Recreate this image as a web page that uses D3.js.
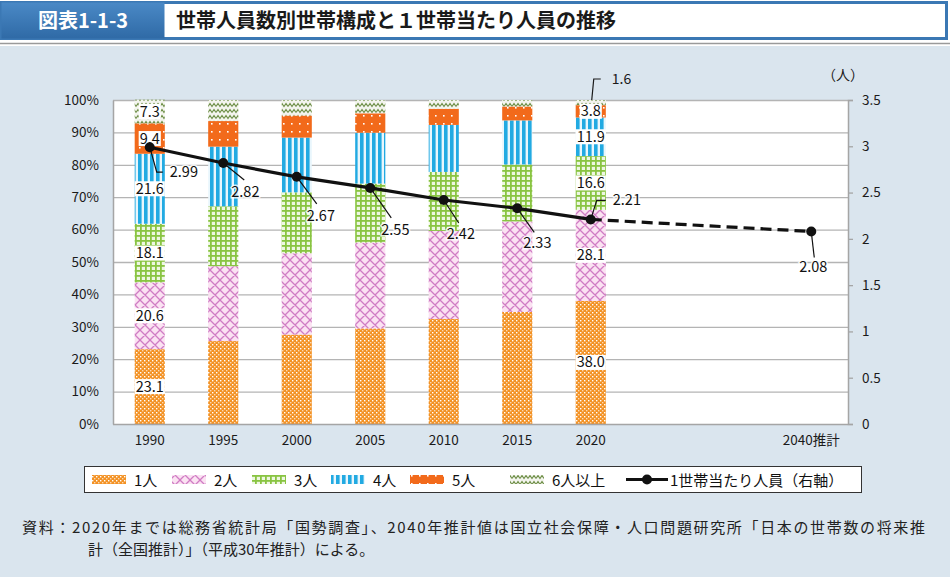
<!DOCTYPE html>
<html><head><meta charset="utf-8">
<script src="https://cdn.jsdelivr.net/npm/d3@7"></script>
<style>
body{margin:0;padding:0;background:#fff;}
svg{display:block;font-family:"Noto Sans CJK JP","Noto Sans",sans-serif;}
</style></head>
<body>
<svg id="c" width="950" height="577"></svg>
<script>
// ---- data ----
const categories = ["1990","1995","2000","2005","2010","2015","2020","gap1","gap2","2040推計"];
const tickLabels = ["1990","1995","2000","2005","2010","2015","2020","","","2040推計"];
const seriesNames = ["1人","2人","3人","4人","5人","6人以上"];
const one   = [23.1, 25.6, 27.6, 29.5, 32.4, 34.6, 38.0];
const two   = [20.6, 23.1, 25.1, 26.5, 27.2, 27.9, 28.1];
const three = [18.1, 18.5, 18.8, 18.2, 18.2, 17.6, 16.6];
const four  = [21.6, 18.4, 16.9, 15.7, 14.5, 13.6, 11.9];
const five  = [9.4, 7.9, 6.8, 6.0, 5.0, 4.3, 3.8];
const six   = [7.3, 6.5, 4.8, 4.1, 2.7, 2.0, 1.6];
const avgPersons = [2.99, 2.82, 2.67, 2.55, 2.42, 2.33, 2.21, null, null, 2.08];
const leftTicks = [0,10,20,30,40,50,60,70,80,90,100];
const rightTicks = [0,0.5,1,1.5,2,2.5,3,3.5];
const labeledBars = ["1990","2020"];
const lineLabel = "1世帯当たり人員（右軸）";
const titleNo = "図表1-1-3";
const titleText = "世帯人員数別世帯構成と１世帯当たり人員の推移";
const noteLines = ["資料：2020年までは総務省統計局「国勢調査」、2040年推計値は国立社会保障・人口問題研究所「日本の世帯数の将来推",
                   "計（全国推計）」（平成30年推計）による。"];

// ---- layout ----
const svg = d3.select("#c");
const L = 113, R = 848, T = 100, B = 424;
const pats = ["p1","p2","p3","p4","p5","p6"];

// background
svg.append("rect").attr("x",0).attr("y",0).attr("width",950).attr("height",577).attr("fill","#fff");
svg.append("rect").attr("x",0).attr("y",46).attr("width",950).attr("height",531).attr("fill","#dae5ee");
// header
svg.append("rect").attr("x",1.5).attr("y",2.5).attr("width",945).attr("height",36).attr("fill","#fff").attr("stroke","#3b78b4").attr("stroke-width",3);
const hg = svg.append("defs").append("linearGradient").attr("id","hg").attr("x1",0).attr("y1",0).attr("x2",0).attr("y2",1);
hg.append("stop").attr("offset","0").attr("stop-color","#4a89c6");
hg.append("stop").attr("offset","1").attr("stop-color","#2f6aa6");
svg.append("rect").attr("x",1.5).attr("y",2.5).attr("width",163).attr("height",36).attr("fill","url(#hg)");
svg.append("text").attr("x",83).attr("y",28).attr("text-anchor","middle").attr("fill","#fff").attr("font-size",20).attr("font-weight","bold").text(titleNo);
svg.append("text").attr("x",176).attr("y",28).attr("fill","#1a1a1a").attr("font-size",20).attr("font-weight","bold").text(titleText);
svg.append("line").attr("x1",0).attr("x2",950).attr("y1",43.5).attr("y2",43.5).attr("stroke","#9a9a9a").attr("stroke-width",1.5);

// patterns
const defs = svg.append("defs");
function pat(id,w,h){return defs.append("pattern").attr("id",id).attr("patternUnits","userSpaceOnUse").attr("width",w).attr("height",h);}
let p;
p = pat("p1",4,4); p.append("rect").attr("width",4).attr("height",4).attr("fill","#f39224");
p.append("rect").attr("x",0).attr("y",0).attr("width",1.4).attr("height",1.4).attr("fill","#fff");
p.append("rect").attr("x",2).attr("y",2).attr("width",1.4).attr("height",1.4).attr("fill","#fbd9b4");
p = pat("p2",10,10); p.append("rect").attr("width",10).attr("height",10).attr("fill","#fbe2f2");
p.append("path").attr("d","M0,0L10,10M10,0L0,10M-1,9L1,11M9,-1L11,1M-1,1L1,-1M9,11L11,9").attr("stroke","#d07cc4").attr("stroke-width",1.3);
p = pat("p3",5,5); p.append("rect").attr("width",5).attr("height",5).attr("fill","#89c442");
p.append("rect").attr("x",1.8).attr("y",1.8).attr("width",3.2).attr("height",3.2).attr("fill","#eef7e2");
p = pat("p4",6,6); p.append("rect").attr("width",6).attr("height",6).attr("fill","#e9f6fc");
p.append("rect").attr("x",0).attr("y",0).attr("width",3.6).attr("height",6).attr("fill","#22aae2");
p = pat("p5",8,8); p.append("rect").attr("width",8).attr("height",8).attr("fill","#f26a1b");
p.append("rect").attr("x",3).attr("y",3).attr("width",1.6).attr("height",1.6).attr("fill","#fff");
p = pat("p6",8,6); p.append("rect").attr("width",8).attr("height",6).attr("fill","#f4f5ef");
p.append("path").attr("d","M0,4.5L2,1.5L4,4.5L6,1.5L8,4.5").attr("fill","none").attr("stroke","#6e8f47").attr("stroke-width",1.2);

// scales
const x = d3.scaleBand().domain(categories).range([L,R]).paddingInner(0.59).paddingOuter(0.295);
const y = d3.scaleLinear().domain([0,100]).range([B,T]);
const y2 = d3.scaleLinear().domain([0,3.5]).range([B,T]);

// plot bg
svg.append("rect").attr("x",L).attr("y",T).attr("width",R-L).attr("height",B-T).attr("fill","#fff");
// gridlines
svg.append("g").selectAll("line").data(leftTicks.filter(d=>d>0)).join("line")
  .attr("x1",L).attr("x2",R).attr("y1",d=>y(d)+0.5).attr("y2",d=>y(d)+0.5)
  .attr("stroke","#b4b4b4").attr("stroke-width",1.3);

// stacked bars
const series = [one,two,three,four,five,six];
const table = categories.slice(0,7).map((c,i)=>{const o={cat:c}; seriesNames.forEach((s,k)=>o[s]=series[k][i]); return o;});
const stacked = d3.stack().keys(seriesNames)(table);
const bars = svg.append("g");
stacked.forEach((s,k)=>{
  bars.append("g").attr("fill",`url(#${pats[k]})`).selectAll("rect").data(s).join("rect")
    .attr("x",d=>x(d.data.cat)).attr("width",x.bandwidth())
    .attr("y",d=>y(d[1])).attr("height",d=>y(d[0])-y(d[1]));
});

// axes
const axL = svg.append("g").attr("transform",`translate(${L},0)`)
  .call(d3.axisLeft(y).tickValues(leftTicks).tickFormat(d=>d+"%").tickSize(0).tickPadding(14));
const axR = svg.append("g").attr("transform",`translate(${R},0)`)
  .call(d3.axisRight(y2).tickValues(rightTicks).tickFormat(d=>String(d)).tickSize(5).tickPadding(9));
const axB = svg.append("g").attr("transform",`translate(0,${B})`)
  .call(d3.axisBottom(x).tickFormat((d,i)=>tickLabels[i]).tickSize(0).tickPadding(11));
[axL,axR,axB].forEach(a=>{
  a.selectAll("path").attr("stroke","#a5a5a5").attr("stroke-width",1.5);
  a.selectAll("line").attr("stroke","#a5a5a5").attr("stroke-width",1.3);
  a.selectAll("text").attr("font-size",13.5).attr("fill","#1a1a1a").attr("font-family","'Noto Sans CJK JP',sans-serif");
});
axB.select("path").attr("d",`M${L},0.5H${R}`);
svg.append("text").attr("x",843).attr("y",80).attr("text-anchor","middle").attr("font-size",14).attr("fill","#1a1a1a").text("（人）");

// bar value labels
const segLabels = svg.append("g");
stacked.forEach((s,k)=>{
  s.forEach(d=>{
    if(!labeledBars.includes(d.data.cat)) return;
    const cx = x(d.data.cat)+x.bandwidth()/2;
    const v = d.data[seriesNames[k]];
    if(d.data.cat==="2020" && k===5){
      const top = y(d[1]);
      segLabels.append("path").attr("d",`M${cx+1},${top}L${cx+3},${top-21}H${cx+10}`).attr("fill","none").attr("stroke","#1a1a1a").attr("stroke-width",1.2);
      segLabels.append("text").attr("x",cx+21).attr("y",top-16).attr("font-size",14).attr("fill","#1a1a1a").text(v.toFixed(1));
      return;
    }
    const cy = (y(d[0])+y(d[1]))/2;
    const t = segLabels.append("text").attr("x",cx).attr("y",cy+5).attr("text-anchor","middle").attr("font-size",14.5).attr("fill","#111").text(v.toFixed(1));
    const bb = t.node().getBBox();
    segLabels.insert("rect","text:last-child").attr("x",bb.x-1).attr("y",cy-7.5).attr("width",bb.width+2).attr("height",15).attr("fill","#fff");
  });
});

// line
const pts = categories.map((c,i)=>({c,v:avgPersons[i],x:x(c)+x.bandwidth()/2})).filter(d=>d.v!=null);
const solid = pts.filter(d=>d.c!=="2040推計");
const dashed = pts.filter(d=>d.c==="2020"||d.c==="2040推計");
const ln = d3.line().x(d=>d.x).y(d=>y2(d.v));
svg.append("path").datum(solid).attr("d",ln).attr("fill","none").attr("stroke","#111").attr("stroke-width",3.2);
svg.append("path").datum(dashed).attr("d",ln).attr("fill","none").attr("stroke","#111").attr("stroke-width",3.2).attr("stroke-dasharray","11,6");
svg.append("g").selectAll("circle").data(pts).join("circle").attr("cx",d=>d.x).attr("cy",d=>y2(d.v)).attr("r",5).attr("fill","#111");

// line labels with leaders (layout offsets)
const lineLabelLayout = {
  "1990":{lead:[[7,25],[13,25]], t:[20,30], anchor:"start"},
  "1995":{lead:[[21,17]], t:[8,34], anchor:"start"},
  "2000":{lead:[[20,27]], t:[10,44], anchor:"start"},
  "2005":{lead:[[21,30]], t:[11,47], anchor:"start"},
  "2010":{lead:[[15,23]], t:[3,39], anchor:"start"},
  "2015":{lead:[[17,24]], t:[6,40], anchor:"start"},
  "2020":{lead:[[6,-19],[15,-19]], t:[22,-14], anchor:"start"},
  "2040推計":{lead:[[3,26]], t:[2,41], anchor:"middle"}
};
const ll = svg.append("g");
pts.forEach(d=>{
  const lay = lineLabelLayout[d.c], px=d.x, py=y2(d.v);
  const path = "M"+px+","+py+lay.lead.map(q=>"L"+(px+q[0])+","+(py+q[1])).join("");
  ll.append("path").attr("d",path).attr("fill","none").attr("stroke","#111").attr("stroke-width",1.2);
  ll.append("text").attr("x",px+lay.t[0]).attr("y",py+lay.t[1]).attr("text-anchor",lay.anchor)
    .attr("font-size",14.5).attr("fill","#111").attr("stroke","rgba(255,255,255,0.8)").attr("stroke-width",3)
    .attr("paint-order","stroke").text(d.v.toFixed(2));
});

// legend
const lg = svg.append("g");
lg.append("rect").attr("x",84.5).attr("y",466.5).attr("width",777).attr("height",26).attr("fill","#fff").attr("stroke","#333").attr("stroke-width",1);
const legX = [92,172,252,331,410,510];
seriesNames.forEach((s,k)=>{
  lg.append("rect").attr("x",legX[k]).attr("y",475).attr("width",34).attr("height",9).attr("fill",`url(#${pats[k]})`);
  lg.append("text").attr("x",legX[k]+42).attr("y",485.5).attr("font-size",15).attr("fill","#111").text(s);
});
lg.append("line").attr("x1",626).attr("x2",668).attr("y1",479.5).attr("y2",479.5).attr("stroke","#111").attr("stroke-width",3.2);
lg.append("circle").attr("cx",647).attr("cy",479.5).attr("r",5).attr("fill","#111");
lg.append("text").attr("x",670).attr("y",485.5).attr("font-size",15).attr("fill","#111").text(lineLabel);

// note
svg.append("text").attr("x",22).attr("y",533).attr("font-size",15).attr("fill","#222").attr("textLength",903).attr("lengthAdjust","spacing").text(noteLines[0]);
svg.append("text").attr("x",88).attr("y",555).attr("font-size",15).attr("fill","#222").text(noteLines[1]);
</script>
</body></html>
